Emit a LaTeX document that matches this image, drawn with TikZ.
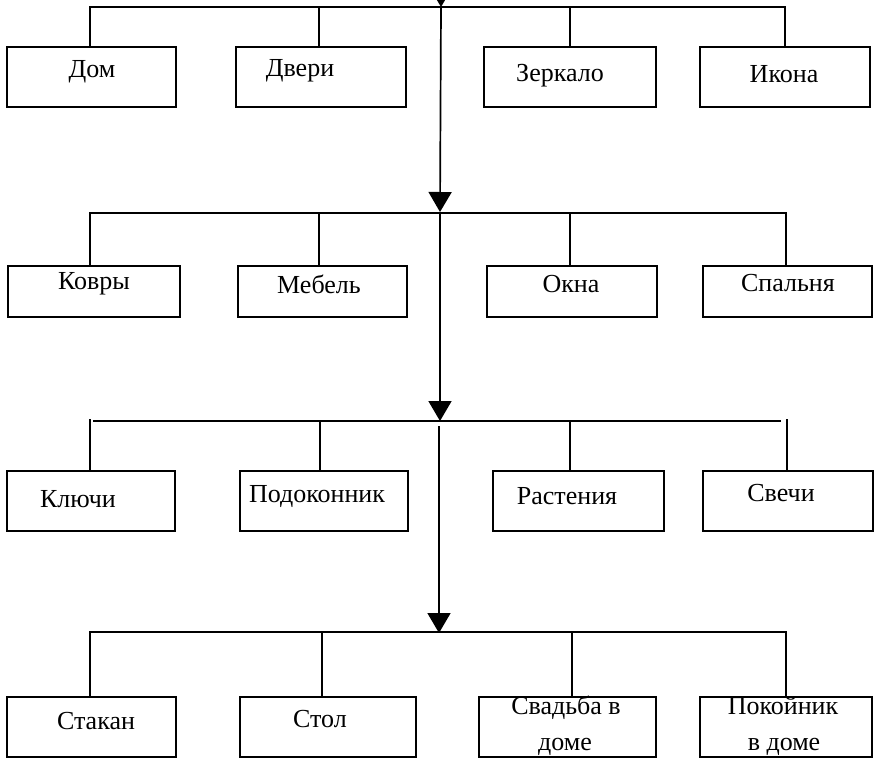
\documentclass[tikz,border=0pt]{standalone}
\usepackage{fontspec}
\setmainfont{Liberation Serif}
\usetikzlibrary{arrows.meta,calc}
\begin{document}
\begin{tikzpicture}[x=1pt,y=-1pt,
  box/.style={draw, line width=2.2pt, rectangle, inner sep=0pt, outer sep=0pt},
  txt/.style={font=\fontsize{26}{28}\selectfont, inner sep=0pt, anchor=base},
  bus/.style={line width=2.2pt},
  trunk/.style={line width=1.7pt, -{Triangle[width=23pt,length=20pt]}}]
\useasboundingbox (0,0) rectangle (875,758);

% ---------- row 1 ----------
\node[box, minimum width=169pt, minimum height=60pt] (b11) at (91.5,77) {};
\node[box, minimum width=170pt, minimum height=60pt] (b12) at (320.75,77) {};
\node[box, minimum width=172pt, minimum height=60pt] (b13) at (570,77) {};
\node[box, minimum width=170pt, minimum height=60pt] (b14) at (785,77) {};
\node[txt] (t11) at (92,77) {Дом};
\node[txt] (t12) at (300,76) {Двери};
\node[txt] (t13) at (560,81) {Зеркало};
\node[txt] (t14) at (784,82) {Икона};

% ---------- row 2 ----------
\node[box, minimum width=172pt, minimum height=51pt] (b21) at (94,291.5) {};
\node[box, minimum width=169pt, minimum height=51pt] (b22) at (322.5,291.5) {};
\node[box, minimum width=170pt, minimum height=51pt] (b23) at (572,291.5) {};
\node[box, minimum width=169pt, minimum height=51pt] (b24) at (787.5,291.5) {};
\node[txt] (t21) at (94,289) {Ковры};
\node[txt] (t22) at (319,293) {Мебель};
\node[txt] (t23) at (571,292) {Окна};
\node[txt] (t24) at (788,291) {Спальня};

% ---------- row 3 ----------
\node[box, minimum width=168pt, minimum height=60pt] (b31) at (91,501) {};
\node[box, minimum width=168pt, minimum height=60pt] (b32) at (324,501) {};
\node[box, minimum width=171pt, minimum height=60pt] (b33) at (578.5,501) {};
\node[box, minimum width=170pt, minimum height=60pt] (b34) at (788,501) {};
\node[txt] (t31) at (78,507) {Ключи};
\node[txt] (t32) at (317,502) {Подоконник};
\node[txt] (t33) at (567,504) {Растения};
\node[txt] (t34) at (781,501) {Свечи};

% ---------- row 4 ----------
\node[box, minimum width=169pt, minimum height=60pt] (b41) at (91.5,727) {};
\node[box, minimum width=176pt, minimum height=60pt] (b42) at (328,727) {};
\node[box, minimum width=177pt, minimum height=60pt] (b43) at (567.5,727) {};
\node[box, minimum width=172pt, minimum height=60pt] (b44) at (786,727) {};
\node[txt] (t41) at (96,729) {Стакан};
\node[txt] (t42) at (320,727) {Стол};
\node[txt] (t43a) at (566,714) {Свадьба в};
\node[txt] (t43b) at (565,750) {доме};
\node[txt] (t44a) at (783,714) {Покойник};
\node[txt] (t44b) at (784,750) {в доме};

% ---------- bus junctions ----------
\coordinate (j11) at (90,7);   \coordinate (j12) at (319,7);
\coordinate (j13) at (570,7);  \coordinate (j14) at (785,7);
\coordinate (j21) at (90,213); \coordinate (j22) at (319,213);
\coordinate (j23) at (570,213);\coordinate (j24) at (786,213);
\coordinate (j31) at (90,419); \coordinate (j32) at (320,421);
\coordinate (j33) at (570,421);\coordinate (j34) at (787,419);
\coordinate (h3a) at (93,421); \coordinate (h3b) at (781,421);
\coordinate (j41) at (90,632); \coordinate (j42) at (322,632);
\coordinate (j43) at (572,632);\coordinate (j44) at (786,632);

% ---------- trunk points ----------
\coordinate (top) at (441,-30);
\coordinate (m1) at (441,7);
\coordinate (m2) at (440,212);
\coordinate (m3) at (440,421);
\coordinate (m3s) at (439,426);
\coordinate (m4) at (439,633);

% ---------- buses ----------
\draw[bus] (j11 |- b11.north) -- (j11) -- (j14) -- (j14 |- b14.north);
\draw[bus] (j12) -- (j12 |- b12.north);
\draw[bus] (j13) -- (j13 |- b13.north);

\draw[bus] (j21 |- b21.north) -- (j21) -- (j24) -- (j24 |- b24.north);
\draw[bus] (j22) -- (j22 |- b22.north);
\draw[bus] (j23) -- (j23 |- b23.north);

\draw[bus] (h3a) -- (h3b);
\draw[bus] (j31) -- (j31 |- b31.north);
\draw[bus] (j34) -- (j34 |- b34.north);
\draw[bus] (j32) -- (j32 |- b32.north);
\draw[bus] (j33) -- (j33 |- b33.north);

\draw[bus] (j41 |- b41.north) -- (j41) -- (j44) -- (j44 |- b44.north);
\draw[bus] (j42) -- (j42 |- b42.north);
\draw[bus] (j43) -- (j43 |- b43.north);

% ---------- trunk ----------
\draw[trunk] (top) -- (m1);
\draw[trunk] (m1) -- (m2);
\draw[trunk] (m2) -- (m3);
\draw[trunk] (m3s) -- (m4);
\end{tikzpicture}
\end{document}
